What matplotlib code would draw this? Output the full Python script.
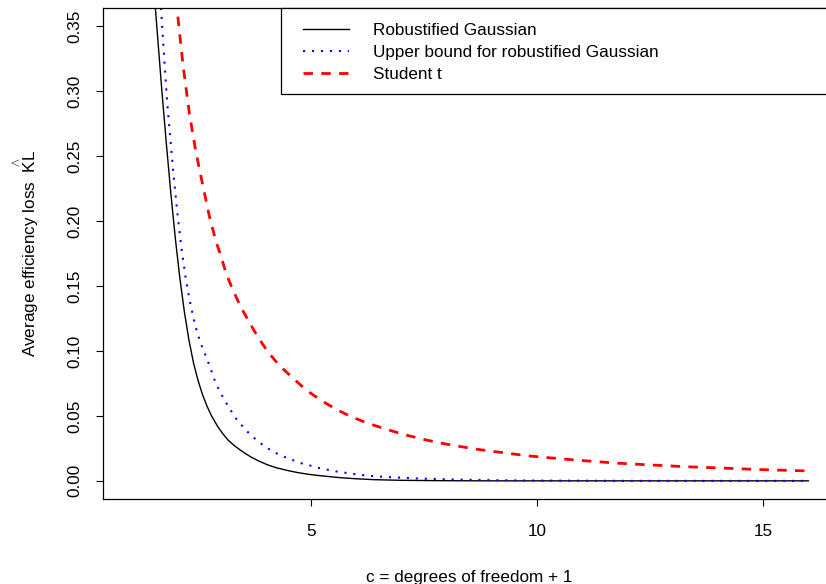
"""Average efficiency loss vs c (degrees of freedom + 1), R-style base plot."""
import matplotlib
matplotlib.use("Agg")
import matplotlib.pyplot as plt
from matplotlib.patches import Rectangle

plt.rcParams["font.family"] = ["Liberation Sans", "DejaVu Sans"]
plt.rcParams["mathtext.fontset"] = "custom"
plt.rcParams["mathtext.rm"] = "Liberation Sans"
plt.rcParams["mathtext.it"] = "Liberation Sans:italic"

FS = 12.3

# --- curves -------------------------------------------------------------
gauss_x = [1.50, 1.556, 1.63, 1.70, 1.80, 1.90, 2.00, 2.10, 2.20, 2.30, 2.40,
           2.50, 2.60, 2.70, 2.80, 2.94, 3.05, 3.16, 3.30, 3.42, 3.55, 3.68,
           3.85, 4.04, 4.25, 4.49, 4.70, 4.93, 5.22, 5.66, 6.00, 6.40, 7.00,
           8.00, 9.00, 10.0, 12.0, 14.0, 16.0]
gauss_y = [0.392, 0.365, 0.332, 0.301, 0.260, 0.2215, 0.1865, 0.156, 0.130,
           0.1085, 0.091, 0.0775, 0.0665, 0.0575, 0.050, 0.0416, 0.0363,
           0.0316, 0.0272, 0.0241, 0.0210, 0.0182, 0.0152, 0.0123, 0.0099,
           0.0079, 0.0064, 0.0051, 0.0039, 0.0024, 0.0016, 0.0009, 0.0004,
           0.0001, 0.0, 0.0, 0.0, 0.0, 0.0]

bound_x = [1.62, 1.69, 1.75, 1.82, 1.89, 1.96, 2.04, 2.13, 2.24, 2.32, 2.40,
           2.48, 2.56, 2.64, 2.72, 2.79, 2.85, 2.93, 3.02, 3.12, 3.22, 3.33,
           3.45, 3.59, 3.73, 3.88, 4.05, 4.23, 4.41, 4.60, 4.78, 4.98, 5.16,
           5.37, 5.57, 5.76, 5.96, 6.15, 6.35, 6.75, 7.36, 8.20, 9.00, 10.0,
           12.0, 14.0, 16.0]
bound_y = [0.400, 0.360, 0.327, 0.291, 0.263, 0.2355, 0.208, 0.1805, 0.1535,
           0.1385, 0.1255, 0.1145, 0.1060, 0.0990, 0.0919, 0.0855, 0.0790,
           0.0727, 0.0665, 0.0603, 0.0545, 0.0485, 0.0434, 0.0380, 0.0334,
           0.0290, 0.0249, 0.0213, 0.0185, 0.0159, 0.0136, 0.0118, 0.0100,
           0.0085, 0.0072, 0.0062, 0.0052, 0.0044, 0.0037, 0.0028, 0.0018,
           0.0010, 0.0005, 0.0002, 0.0, 0.0, 0.0]

student_x = [1.95, 2.035, 2.17, 2.31, 2.45, 2.61, 2.75, 2.90, 3.00, 3.12, 3.26,
             3.43, 3.62, 3.82, 4.04, 4.30, 4.60, 4.89, 5.22, 5.55, 5.88, 6.25,
             6.66, 7.02, 7.43, 7.80, 8.20, 8.60, 8.97, 9.38, 9.78, 10.19,
             10.96, 11.77, 12.58, 13.35, 14.12, 14.90, 15.72, 16.0]
student_y = [0.392, 0.364, 0.320, 0.283, 0.254, 0.227, 0.204, 0.184, 0.174,
             0.160, 0.148, 0.135, 0.123, 0.111, 0.0996, 0.0888, 0.0791, 0.070,
             0.062, 0.0552, 0.0495, 0.0444, 0.0398, 0.0360, 0.0324, 0.0295,
             0.0270, 0.0247, 0.0229, 0.0211, 0.0193, 0.0180, 0.0157, 0.0136,
             0.0121, 0.0108, 0.0098, 0.0087, 0.0079, 0.0076]

labels = ["Robustified Gaussian", "Upper bound for robustified Gaussian",
          "Student t"]
x_ticks = [5, 10, 15]
y_ticks = [0.00, 0.05, 0.10, 0.15, 0.20, 0.25, 0.30, 0.35]

fig = plt.figure(figsize=(8.26, 5.84), dpi=100)
# right edge sits just past the canvas, like the cropped original
ax = fig.add_axes([0.1247, 0.1455, 1.0115 - 0.1247, 0.9863 - 0.1455])

ax.plot(gauss_x, gauss_y, color="black", lw=1.0, label=labels[0])
ax.plot(bound_x, bound_y, color="blue", lw=1.5, linestyle=(0, (1, 3.3)),
        label=labels[1])
ax.plot(student_x, student_y, color="red", lw=2.0, linestyle=(0, (3.4, 3.0)),
        label=labels[2])

ax.set_xlim(0.4, 16.6)
ax.set_ylim(-0.014, 0.364)
ax.set_xticks(x_ticks)
ax.set_yticks(y_ticks)
ax.set_yticklabels([f"{v:.2f}" for v in y_ticks], rotation=90, va="center")
ax.tick_params(direction="out", length=5, width=0.8, labelsize=FS)
ax.tick_params(axis="x", pad=13)
ax.tick_params(axis="y", pad=9.5)
for s in ax.spines.values():
    s.set_linewidth(0.9)

ax.set_xlabel("c = degrees of freedom + 1", fontsize=FS, labelpad=22)
ax.set_ylabel(r"Average efficiency loss  $\overset{\wedge}{\mathrm{KL}}$",
              fontsize=FS, labelpad=19)

# legend box: R-style, wide frame hugging the top right corner
ax.add_patch(Rectangle((0.243, 0.8248), 0.757, 0.1752, transform=ax.transAxes,
                       facecolor="white", edgecolor="black", lw=0.9,
                       zorder=4, clip_on=False))
ax.legend(loc="upper left", bbox_to_anchor=(0.273, 0.9699), frameon=False,
          borderaxespad=0, borderpad=0, fontsize=FS, handlelength=2.7,
          handletextpad=1.4, labelspacing=0.416).set_zorder(5)

fig.savefig("out.png", dpi=100)
plt.close(fig)
